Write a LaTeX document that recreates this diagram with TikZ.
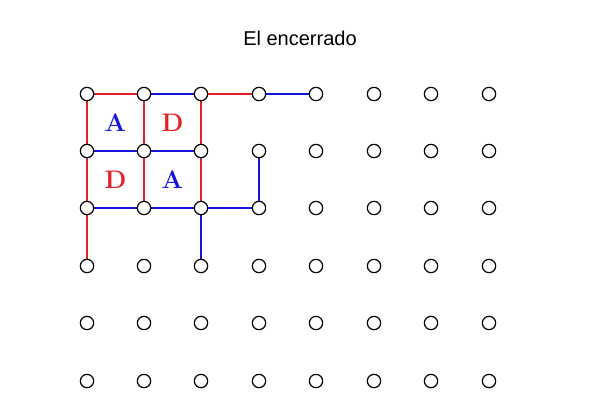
\documentclass[tikz,border=0pt]{standalone}
\usepackage{fontspec}
\newfontfamily\titlefont{Liberation Sans}
\begin{document}
\begin{tikzpicture}[x=0.75pt,y=-0.75pt,
  dot/.style={circle,draw=black,fill=white,line width=0.9pt,minimum size=10pt,inner sep=0pt},
  rd/.style={draw={rgb,255:red,230;green,30;blue,40},line width=1.5pt},
  bl/.style={draw={rgb,255:red,20;green,20;blue,220},line width=1.5pt},
  lab/.style={font=\fontsize{19}{19}\selectfont\bfseries}]
\useasboundingbox (0,0) rectangle (600,400);
\node[font=\titlefont\fontsize{15}{15}\selectfont] (title) at (300,38) {El encerrado};
\foreach \i/\x in {0/87,1/144,2/201,3/259,4/316,5/374,6/431,7/489}
  \foreach \j/\y in {0/94,1/151,2/208,3/266,4/323,5/381}
    \coordinate (p\i\j) at (\x,\y);
\foreach \a/\b in {00/10,20/30,00/01,01/02,02/03,10/11,11/12,20/21,21/22}
  \draw[rd] (p\a) -- (p\b);
\foreach \a/\b in {10/20,30/40,01/11,11/21,02/12,12/22,22/32,31/32,22/23}
  \draw[bl] (p\a) -- (p\b);
\foreach \i in {0,...,7}
  \foreach \j in {0,...,5}
    \node[dot] (n\i\j) at (p\i\j) {};
\node[lab,text={rgb,255:red,20;green,20;blue,220}] (a1) at (115.5,123) {A};
\node[lab,text={rgb,255:red,230;green,30;blue,40}] (d1) at (172.5,123) {D};
\node[lab,text={rgb,255:red,230;green,30;blue,40}] (d2) at (115.5,180) {D};
\node[lab,text={rgb,255:red,20;green,20;blue,220}] (a2) at (172.5,180) {A};
\end{tikzpicture}
\end{document}
